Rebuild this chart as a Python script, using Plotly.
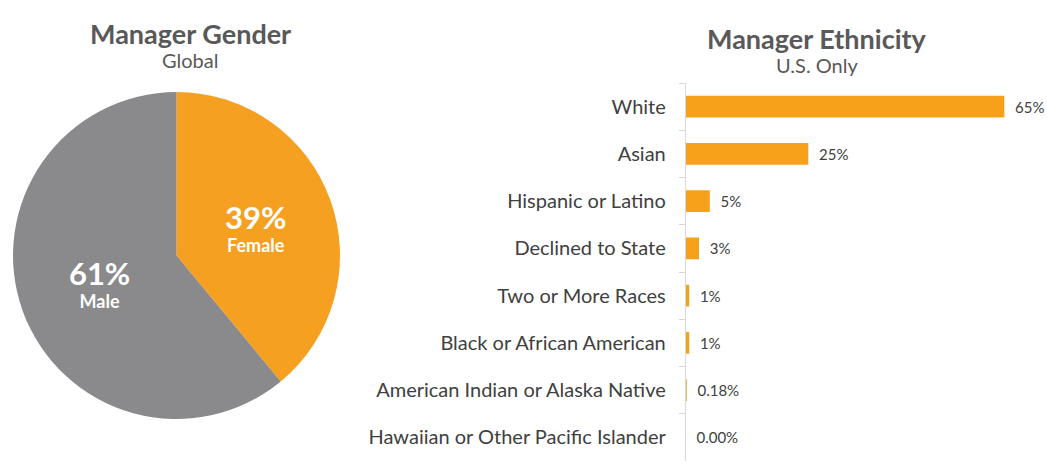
import plotly.graph_objects as go

# gender split (global)
gender_labels = ["Female", "Male"]
gender_share = [39, 61]

# ethnicity split (U.S. only)
ethnicity = [
    "White",
    "Asian",
    "Hispanic or Latino",
    "Declined to State",
    "Two or More Races",
    "Black or African American",
    "American Indian or Alaska Native",
    "Hawaiian or Other Pacific Islander",
]
ethnicity_pct = [65, 25, 4.9, 2.7, 0.7, 0.7, 0.18, 0.0]
ethnicity_text = ["65%", "25%", "5%", "3%", "1%", "1%", "0.18%", "0.00%"]

FONT = "Lato, 'Open Sans', sans-serif"
TXT = "#404040"
TITLE = "#595959"
ORANGE = "#F7A11A"
GREY = "#8A8A8C"
RULE = "#D9D9D9"

fig = go.Figure()

fig.add_trace(go.Pie(
    labels=gender_labels,
    values=gender_share,
    sort=False,
    direction="clockwise",
    rotation=0,
    marker=dict(colors=["#F5A021", GREY], line=dict(width=0)),
    domain=dict(x=[12 / 1047, 341 / 1047], y=[1 - 419 / 470, 1 - 92 / 470]),
    texttemplate="<b><span style='font-size:31px'>%{percent:.0%}</span><br>%{label}</b>",
    textposition="inside",
    insidetextorientation="horizontal",
    textfont=dict(family=FONT, size=18, color="white"),
    hoverinfo="label+percent",
    showlegend=False,
))

fig.add_trace(go.Bar(
    x=ethnicity_pct,
    y=ethnicity,
    orientation="h",
    marker=dict(color=ORANGE, line=dict(width=0)),
    text=ethnicity_text,
    texttemplate="  %{text}",
    textposition="outside",
    textfont=dict(family=FONT, size=15, color=TXT),
    cliponaxis=False,
    width=0.46,
    showlegend=False,
))

fig.update_layout(
    width=1047,
    height=470,
    paper_bgcolor="white",
    plot_bgcolor="white",
    margin=dict(l=0, r=0, t=0, b=0),
    font=dict(family=FONT, color=TXT),
    xaxis=dict(domain=[0.655, 1.0], range=[0, 73.7], visible=False, fixedrange=True),
    yaxis=dict(
        domain=[1 - 461 / 470, 1 - 83 / 470],
        autorange="reversed",
        showline=True, linecolor=RULE, linewidth=1,
        ticks="outside", tickson="boundaries", ticklen=6, tickcolor=RULE,
        tickfont=dict(family=FONT, size=20, color=TXT),
        ticklabelstandoff=15,
        showgrid=False, zeroline=False,
    ),
    annotations=[
        dict(text="<b>Manager Gender</b>", x=190 / 1047, y=1 - 33 / 470, xref="paper", yref="paper",
             xanchor="center", yanchor="middle",
             showarrow=False, font=dict(family=FONT, size=27, color=TITLE)),
        dict(text="Global", x=190 / 1047, y=1 - 60 / 470, xref="paper", yref="paper",
             xanchor="center", yanchor="middle",
             showarrow=False, font=dict(family=FONT, size=20, color=TITLE)),
        dict(text="<b>Manager Ethnicity</b>", x=817 / 1047, y=1 - 39 / 470, xref="paper", yref="paper",
             xanchor="center", yanchor="middle",
             showarrow=False, font=dict(family=FONT, size=27, color=TITLE)),
        dict(text="U.S. Only", x=817 / 1047, y=1 - 65 / 470, xref="paper", yref="paper",
             xanchor="center", yanchor="middle",
             showarrow=False, font=dict(family=FONT, size=20, color=TITLE)),
    ],
)

# drop the browser's default body margin so the figure sits at the page corner
fig.write_html("out.html", config={"displayModeBar": False},
               post_script="document.body.style.margin='0';")
